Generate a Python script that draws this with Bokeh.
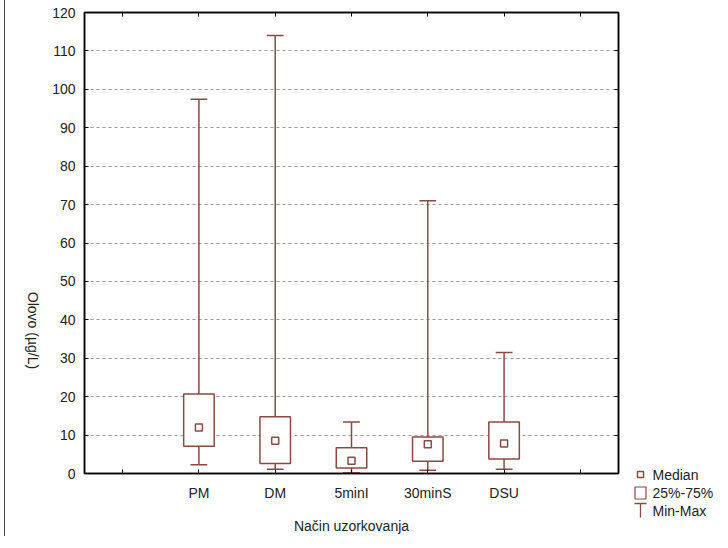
import math
from bokeh.plotting import figure
from bokeh.models import (Range1d, LinearAxis, FixedTicker, ColumnDataSource,
                          CustomJSTickFormatter, Spacer)
from bokeh.core.properties import value
from bokeh.layouts import row, column
from bokeh.embed import file_html
from bokeh.resources import INLINE

# ---- data ----
categories = ["PM", "DM", "5minI", "30minS", "DSU"]
positions = [1, 2, 3, 4, 5]
mins = [2.3, 1.1, 0.2, 0.85, 1.1]
q1 = [7.1, 2.6, 1.4, 3.2, 3.8]
medians = [12.0, 8.5, 3.3, 7.6, 7.8]
q3 = [20.7, 14.8, 6.7, 9.5, 13.4]
maxs = [97.4, 114.0, 13.4, 71.0, 31.5]
y_ticks = list(range(0, 121, 10))
x_ticks = [0, 1, 2, 3, 4, 5, 6]
legend_labels = ["Median", "25%-75%", "Min-Max"]
y_title = "Olovo (µg/L)"
x_title = "Način uzorkovanja"

BROWN = "#8a4a42"
TEXT = "#222222"
FONT = "Liberation Sans"
BOX_HALF = 0.2
CAP_HALF = 0.11

# layout (pixels)
LEFT_W = 36
H = 538
ML, MT, MR, MB = 43, 14, 10, 60
W = 577 + MR
LEG_W, LEG_H, LEG_TOP = 90, 66, 463
X0, X1, Y0, Y1 = -0.5, 6.5, 0, 120
FH = H - MT - MB
px_y = (Y1 - Y0) / FH

src = ColumnDataSource(dict(
    x=positions,
    left=[p - BOX_HALF for p in positions],
    right=[p + BOX_HALF for p in positions],
    cl=[p - CAP_HALF for p in positions],
    cr=[p + CAP_HALF for p in positions],
    mn=mins, q1=q1, med=medians, q3=q3, mx=maxs,
))

p = figure(width=W, height=H, x_range=Range1d(X0, X1), y_range=Range1d(Y0, Y1),
           output_backend="svg", toolbar_location=None,
           min_border_left=ML, min_border_top=MT, min_border_right=MR, min_border_bottom=MB,
           x_axis_location=None, y_axis_location=None)
p.background_fill_color = "white"
p.border_fill_color = "white"
p.outline_line_color = "black"
p.outline_line_width = 1.5

blank = CustomJSTickFormatter(code="return ''")

def style_axis(ax, size="14px"):
    ax.axis_line_color = "black"
    ax.axis_line_width = 1.5
    ax.major_tick_in = 4
    ax.major_tick_out = 0
    ax.major_tick_line_color = "black"
    ax.minor_tick_line_color = None
    ax.major_label_text_font = FONT
    ax.major_label_text_color = TEXT
    ax.major_label_text_font_size = size

left = LinearAxis(ticker=FixedTicker(ticks=y_ticks))
style_axis(left)
left.major_label_standoff = 9
p.add_layout(left, "left")

right = LinearAxis(ticker=FixedTicker(ticks=y_ticks), formatter=blank)
style_axis(right, "1px")
right.major_label_standoff = 0
p.add_layout(right, "right")

names_js = "{" + ",".join(f"{pos}: '{c}'" for pos, c in zip(positions, categories)) + "}"
bottom = LinearAxis(ticker=FixedTicker(ticks=x_ticks),
                    formatter=CustomJSTickFormatter(code=f"const m = {names_js}; return m[tick] || '';"))
style_axis(bottom)
bottom.major_label_standoff = 11
bottom.axis_label = x_title
bottom.axis_label_text_font = FONT
bottom.axis_label_text_font_style = "normal"
bottom.axis_label_text_font_size = "14px"
bottom.axis_label_text_color = TEXT
bottom.axis_label_standoff = 14
p.add_layout(bottom, "below")

top = LinearAxis(ticker=FixedTicker(ticks=x_ticks), formatter=blank)
style_axis(top, "1px")
top.major_label_standoff = 0
p.add_layout(top, "above")

p.xgrid.visible = False
p.ygrid.ticker = FixedTicker(ticks=y_ticks)
p.ygrid.grid_line_color = "#9a9a9a"
p.ygrid.grid_line_dash = "3 3"
p.ygrid.grid_line_width = 1

# whiskers and caps
p.segment(x0="x", y0="q3", x1="x", y1="mx", source=src, line_color=BROWN, line_width=1.5)
p.segment(x0="x", y0="q1", x1="x", y1="mn", source=src, line_color=BROWN, line_width=1.5)
p.segment(x0="cl", y0="mx", x1="cr", y1="mx", source=src, line_color=BROWN, line_width=1.5)
p.segment(x0="cl", y0="mn", x1="cr", y1="mn", source=src, line_color=BROWN, line_width=1.5)
# boxes
p.quad(left="left", right="right", bottom="q1", top="q3", source=src,
       fill_color="white", line_color=BROWN, line_width=1.5)
# medians
p.scatter(x="x", y="med", source=src, marker="square", size=7,
          fill_color="white", line_color=BROWN, line_width=1.5)

# ---- y-axis title panel (reads top to bottom) ----
yfig = figure(width=LEFT_W, height=H, x_range=Range1d(0, LEFT_W), y_range=p.y_range,
              output_backend="svg", toolbar_location=None,
              min_border_left=0, min_border_right=0, min_border_top=MT, min_border_bottom=MB,
              x_axis_location=None, y_axis_location=None)
yfig.outline_line_color = None
yfig.xgrid.visible = False
yfig.ygrid.visible = False
yfig.text(x=[27], y=[Y0 + 144 * px_y], text=[y_title], angle=-math.pi / 2,
          text_align="center", text_baseline="middle", text_font=value(FONT),
          text_font_size="14px", text_color=TEXT)

# ---- legend panel (pixel coordinates, y downwards) ----
leg = figure(width=LEG_W, height=LEG_H, x_range=Range1d(0, LEG_W), y_range=Range1d(LEG_H, 0),
             output_backend="svg", toolbar_location=None,
             min_border_left=0, min_border_right=0, min_border_top=0, min_border_bottom=0,
             x_axis_location=None, y_axis_location=None)
leg.outline_line_color = None
leg.xgrid.visible = False
leg.ygrid.visible = False
sw_x, txt_x = 12, 24
rows_y = [13, 31.5, 49]
leg.scatter(x=[sw_x], y=[rows_y[0]], marker="square", size=6,
            fill_color="white", line_color=BROWN, line_width=1.5)
leg.rect(x=[sw_x], y=[rows_y[1]], width=11, height=12,
         fill_color="white", line_color=BROWN, line_width=1.2)
leg.segment(x0=[sw_x], y0=[rows_y[2] - 7], x1=[sw_x], y1=[rows_y[2] + 7],
            line_color=BROWN, line_width=1.3)
leg.segment(x0=[sw_x - 6], y0=[rows_y[2] - 7], x1=[sw_x + 6], y1=[rows_y[2] - 7],
            line_color=BROWN, line_width=1.3)
leg.text(x=[txt_x] * 3, y=rows_y, text=legend_labels, text_font=value(FONT),
         text_font_size="14px", text_baseline="middle", text_align="left", text_color=TEXT)

legend_col = column(Spacer(width=LEG_W, height=LEG_TOP), leg)

layout = row(yfig, p, legend_col,
             styles={"border-top": "1px solid #444", "border-left": "1px solid #444",
                     "margin-left": "4px", "margin-top": "-3px"})

open("out.html", "w").write(file_html(layout, INLINE))
